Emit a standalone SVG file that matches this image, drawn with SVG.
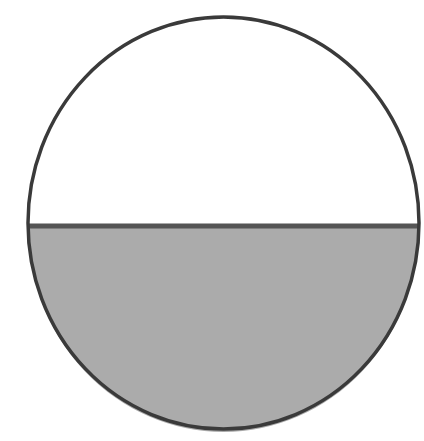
<svg xmlns="http://www.w3.org/2000/svg" width="424" height="441" viewBox="0 0 424 441">
<style>
.outline{fill:none;stroke:#3a3a3a;stroke-width:3.5}
.half{fill:#ababab;stroke:none}
.divider{stroke:#555;stroke-width:5}
</style>
<rect width="424" height="441" fill="#fff"/>
<g id="shape">
<path class="half" d="M28,226 A195.5,206 0 0,0 419,226 Z"/>
<line class="divider" x1="28" y1="226" x2="419" y2="226"/>
<ellipse class="outline" cx="223.5" cy="223" rx="195.5" ry="206"/>
</g>
</svg>
